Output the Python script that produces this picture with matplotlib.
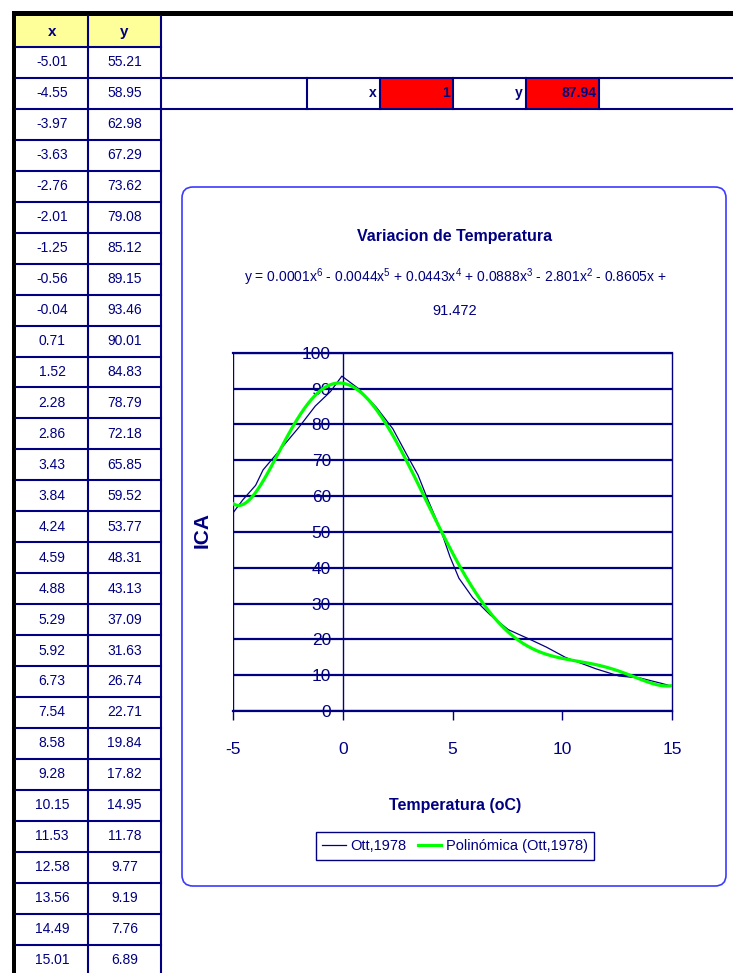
import numpy as np
import matplotlib
matplotlib.use("Agg")
import matplotlib.pyplot as plt
from matplotlib.patches import Rectangle, FancyBboxPatch

plt.rcParams['font.family'] = ['Liberation Sans', 'DejaVu Sans']
plt.rcParams['mathtext.fontset'] = 'custom'
plt.rcParams['mathtext.rm'] = 'Liberation Sans'
plt.rcParams['mathtext.it'] = 'Liberation Sans'
plt.rcParams['axes.unicode_minus'] = False

# Sheet data (columns x / y)
x_vals = [-5.01, -4.55, -3.97, -3.63, -2.76, -2.01, -1.25, -0.56, -0.04, 0.71,
          1.52, 2.28, 2.86, 3.43, 3.84, 4.24, 4.59, 4.88, 5.29, 5.92,
          6.73, 7.54, 8.58, 9.28, 10.15, 11.53, 12.58, 13.56, 14.49, 15.01]
y_vals = [55.21, 58.95, 62.98, 67.29, 73.62, 79.08, 85.12, 89.15, 93.46, 90.01,
          84.83, 78.79, 72.18, 65.85, 59.52, 53.77, 48.31, 43.13, 37.09, 31.63,
          26.74, 22.71, 19.84, 17.82, 14.95, 11.78, 9.77, 9.19, 7.76, 6.89]

x_ticks = [-5, 0, 5, 10, 15]
y_ticks = list(range(0, 101, 10))
series_names = ['Ott,1978', 'Polinómica (Ott,1978)']
chart_title = 'Variacion de Temperatura'
eq_line1 = (r'y = 0.0001x$^6$ - 0.0044x$^5$ + 0.0443x$^4$ + 0.0888x$^3$'
            r' - 2.801x$^2$ - 0.8605x +')
eq_line2 = '91.472'
x_label = 'Temperatura (oC)'
y_label = 'ICA'
x_eval = 1
poly_degree = 6

NAVY = '#000080'
GREEN = '#00ff00'
BORDER = '#3b3bff'

fig = plt.figure(figsize=(7.33, 9.73), dpi=100)

# background layer in pixel coordinates (spreadsheet cells + chart area)
bg = fig.add_axes([0, 0, 1, 1])
bg.set_xlim(0, 733)
bg.set_ylim(973, 0)
bg.axis('off')

row_h = 30.95
head_top, head_bot = 16, 47
col_x = [16, 88, 161]
cell_fs = 10

bg.add_patch(Rectangle((col_x[0], head_top), col_x[2] - col_x[0], head_bot - head_top,
                       facecolor='#ffff99', edgecolor='none'))
bg.text((col_x[0] + col_x[1]) / 2, 32, 'x', ha='center', va='center',
        color=NAVY, fontsize=cell_fs + 1, fontweight='bold')
bg.text((col_x[1] + col_x[2]) / 2, 32, 'y', ha='center', va='center',
        color=NAVY, fontsize=cell_fs + 1, fontweight='bold')

for i, (xv, yv) in enumerate(zip(x_vals, y_vals)):
    yc = head_bot + (i + 0.5) * row_h
    bg.text((col_x[0] + col_x[1]) / 2, yc, f'{xv:.2f}', ha='center', va='center',
            color=NAVY, fontsize=cell_fs)
    bg.text((col_x[1] + col_x[2]) / 2, yc, f'{yv:.2f}', ha='center', va='center',
            color=NAVY, fontsize=cell_fs)

for i in range(len(x_vals) + 1):
    yl = head_bot + i * row_h
    bg.plot([col_x[0], col_x[2]], [yl, yl], color=NAVY, lw=1.5)
for xl in col_x[1:]:
    bg.plot([xl, xl], [head_top, 973], color=NAVY, lw=1.5)

# the row holding the evaluated point
r_top = head_bot + row_h
r_bot = head_bot + 2 * row_h
bg.plot([col_x[2], 733], [r_top, r_top], color=NAVY, lw=1.5)
bg.plot([col_x[2], 733], [r_bot, r_bot], color=NAVY, lw=1.5)
cells = [307, 380, 453, 526, 599]
bg.add_patch(Rectangle((380, r_top), 73, row_h, facecolor='red', edgecolor='none'))
bg.add_patch(Rectangle((526, r_top), 73, row_h, facecolor='red', edgecolor='none'))
for xl in cells:
    bg.plot([xl, xl], [r_top, r_bot], color=NAVY, lw=1.5)

coefs = np.polyfit(x_vals, y_vals, poly_degree)
y_eval = np.polyval(coefs, x_eval)
ym = (r_top + r_bot) / 2
bg.text(377, ym, 'x', ha='right', va='center', color=NAVY, fontsize=cell_fs, fontweight='bold')
bg.text(450, ym, f'{x_eval:g}', ha='right', va='center', color=NAVY, fontsize=cell_fs, fontweight='bold')
bg.text(523, ym, 'y', ha='right', va='center', color=NAVY, fontsize=cell_fs, fontweight='bold')
bg.text(596, ym, f'{y_eval:.2f}', ha='right', va='center', color=NAVY, fontsize=cell_fs, fontweight='bold')

# black sheet border
bg.add_patch(Rectangle((12, 11), 721, 5, facecolor='black', edgecolor='none'))
bg.add_patch(Rectangle((12, 11), 4, 962, facecolor='black', edgecolor='none'))

# chart area
bg.add_patch(FancyBboxPatch((182, 187), 544, 699, boxstyle='round,pad=0,rounding_size=11',
                            facecolor='white', edgecolor=BORDER, lw=1.2))
bg.text(455, 236, chart_title, ha='center', va='center', color=NAVY,
        fontsize=11.5, fontweight='bold')
bg.text(455, 277, eq_line1, ha='center', va='center', color=NAVY, fontsize=10)
bg.text(455, 311, eq_line2, ha='center', va='center', color=NAVY, fontsize=10.5)

# plot area
ax = fig.add_axes([233 / 733, 1 - 711 / 973, 439 / 733, 358.3 / 973])
ax.set_xlim(x_ticks[0], x_ticks[-1])
ax.set_ylim(y_ticks[0], y_ticks[-1])
ax.spines['left'].set_position(('data', 0))
for side in ['left', 'right']:
    ax.spines[side].set_color(NAVY)
    ax.spines[side].set_linewidth(1.0)
for side in ['top', 'bottom']:
    ax.spines[side].set_color(NAVY)
    ax.spines[side].set_linewidth(1.6)
ax.axvline(x_ticks[0], color=NAVY, lw=1.0)

ax.set_xticks(x_ticks)
ax.set_yticks(y_ticks)
ax.tick_params(axis='x', length=6.5, width=1.0, color=NAVY, direction='out',
               pad=16, labelsize=12.5, labelcolor=NAVY)
ax.tick_params(axis='y', length=0, pad=8.5, labelsize=12.5, labelcolor=NAVY)
ax.grid(axis='y', color=NAVY, lw=1.6)
ax.set_axisbelow(True)

ax.plot(x_vals, y_vals, color=NAVY, lw=0.9, label=series_names[0], zorder=3)
xs = np.linspace(min(x_vals), max(x_vals), 400)
ax.plot(xs, np.polyval(coefs, xs), color=GREEN, lw=2.3, label=series_names[1], zorder=4)

ax.set_xlabel(x_label, color=NAVY, fontsize=11.5, fontweight='bold')
ax.xaxis.set_label_coords((455 - 233) / 439, (711 - 798) / 358.3)
ax.set_ylabel(y_label, color=NAVY, fontsize=15, fontweight='bold')
ax.yaxis.set_label_coords((212 - 233) / 439, (711 - 530) / 358.3)

leg = fig.legend(loc='center', bbox_to_anchor=(455 / 733, 1 - 846 / 973), ncol=2,
                 fancybox=False, fontsize=10.5, handlelength=1.6, handletextpad=0.3,
                 columnspacing=0.8, borderpad=0.45, framealpha=1)
leg.get_frame().set_edgecolor(NAVY)
leg.get_frame().set_linewidth(1.0)
for t in leg.get_texts():
    t.set_color(NAVY)

fig.savefig('out.png', dpi=100)
